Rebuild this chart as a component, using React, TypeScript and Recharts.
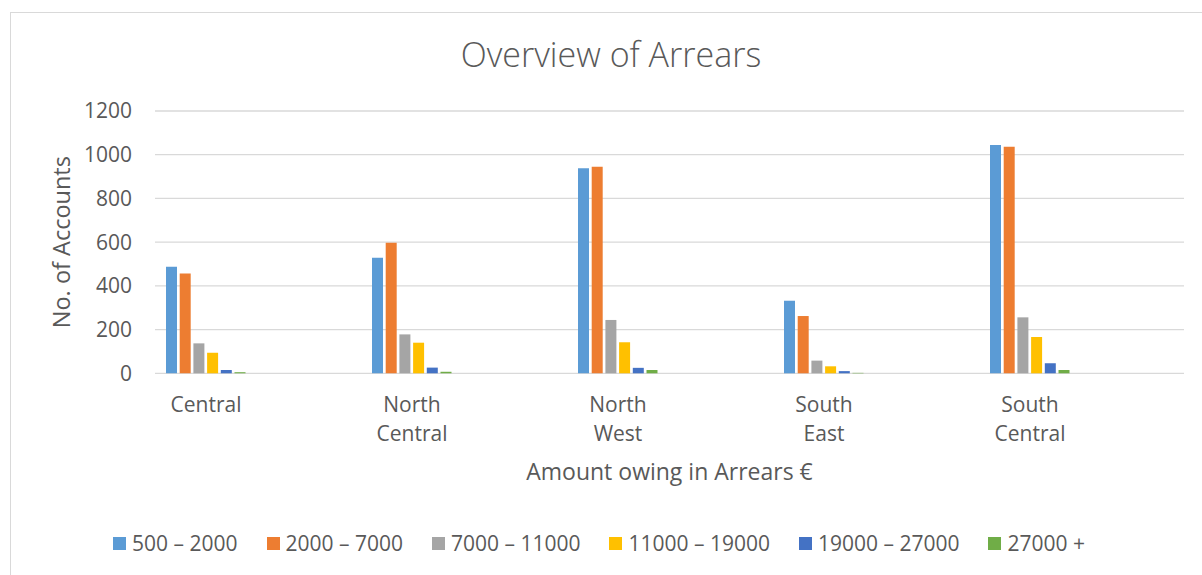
import React from 'react'
import { BarChart, Bar, XAxis, YAxis, CartesianGrid, Legend } from 'recharts'

const regions = ['Central', 'North Central', 'North West', 'South East', 'South Central']
const band500 = [488, 529, 938, 332, 1044]
const band2000 = [457, 597, 945, 262, 1037]
const band7000 = [137, 178, 244, 58, 256]
const band11000 = [94, 140, 142, 32, 166]
const band19000 = [15, 26, 25, 10, 46]
const band27000 = [5, 7, 15, 2, 15]
const yTicks = [0, 200, 400, 600, 800, 1000, 1200]

const series = [
  { key: 'b1', name: '500 – 2000', values: band500, color: '#5B9BD5' },
  { key: 'b2', name: '2000 – 7000', values: band2000, color: '#ED7D31' },
  { key: 'b3', name: '7000 – 11000', values: band7000, color: '#A5A5A5' },
  { key: 'b4', name: '11000 – 19000', values: band11000, color: '#FFC000' },
  { key: 'b5', name: '19000 – 27000', values: band19000, color: '#4472C4' },
  { key: 'b6', name: '27000 +', values: band27000, color: '#70AD47' },
]

const data = regions.map((region, i) => {
  const row: Record<string, string | number> = { region }
  series.forEach((s) => { row[s.key] = s.values[i] })
  return row
})

const font = '"Open Sans", Lato, sans-serif'
const textColor = '#595959'
const fs = 21

function RegionTick({ x, y, payload }: any) {
  const words = String(payload.value).split(' ')
  return (
    <text x={x} y={y + 39} textAnchor="middle" fill={textColor} fontSize={fs} fontFamily={font}>
      {words.map((w, i) => (
        <tspan key={i} x={x} dy={i === 0 ? 0 : 28.5}>{w}</tspan>
      ))}
    </text>
  )
}

function LegendBox({ payload }: any) {
  const order = series.map((s) => s.name)
  const items = [...(payload || [])].sort((a: any, b: any) => order.indexOf(a.value) - order.indexOf(b.value))
  return (
    <div style={{ display: 'flex', justifyContent: 'center', gap: 29, fontFamily: font, fontSize: fs, color: textColor }}>
      {items.map((p: any) => (
        <div key={p.value} style={{ display: 'flex', alignItems: 'center' }}>
          <span style={{ width: 13, height: 13, background: p.color, marginRight: 6, display: 'inline-block' }} />
          <span>{p.value}</span>
        </div>
      ))}
    </div>
  )
}

export default function App() {
  return (
    <div style={{ position: 'absolute', left: 0, top: 0, width: 1202, height: 575, overflow: 'hidden', background: '#fff' }}>
      <div style={{ position: 'absolute', left: 10, top: 12, width: 1200, height: 562, border: '1px solid #D9D9D9' }} />
      <div style={{ position: 'absolute', left: 10, top: 31, width: 1202, textAlign: 'center', fontFamily: font, fontWeight: 300, fontSize: 34, color: textColor }}>
        Overview of Arrears
      </div>
      <div style={{ position: 'absolute', left: 0, top: 0 }}>
        <BarChart width={1202} height={575} data={data} margin={{ top: 111, right: 18, left: 55, bottom: 141.7 }} barSize={11} barGap={2.7}>
          <CartesianGrid vertical={false} stroke="#D9D9D9" strokeWidth={1.3} />
          <XAxis
            dataKey="region"
            height={60}
            axisLine={false}
            tickLine={false}
            tickSize={0}
            tickMargin={0}
            padding={{ left: -52, right: 51 }}
            tick={<RegionTick />}
            interval={0}
            label={{
              content: ({ viewBox }: any) => (
                <text x={viewBox.x + viewBox.width / 2} y={viewBox.y + 106.7} textAnchor="middle" fill={textColor} fontSize={23} fontFamily={font}>
                  Amount owing in Arrears €
                </text>
              ),
            }}
          />
          <YAxis
            width={100}
            domain={[0, 1200]}
            ticks={yTicks}
            axisLine={false}
            tickLine={false}
            tickSize={0}
            tickMargin={23}
            tick={{ fill: textColor, fontSize: fs, fontFamily: font }}
            label={{
              content: ({ viewBox }: any) => {
                const cx = viewBox.x + 6
                const cy = viewBox.y + viewBox.height / 2
                return (
                  <text x={cx} y={cy} transform={`rotate(-90, ${cx}, ${cy})`} textAnchor="middle" dominantBaseline="central" fill={textColor} fontSize={23.5} fontFamily={font}>
                    No. of Accounts
                  </text>
                )
              },
            }}
          />
          <Legend verticalAlign="middle" align="center" layout="horizontal" wrapperStyle={{ top: 529, left: 0, width: 1198 }} content={<LegendBox />} />
          {series.map((s) => (
            <Bar key={s.key} dataKey={s.key} name={s.name} fill={s.color} isAnimationActive={false} />
          ))}
        </BarChart>
      </div>
    </div>
  )
}
